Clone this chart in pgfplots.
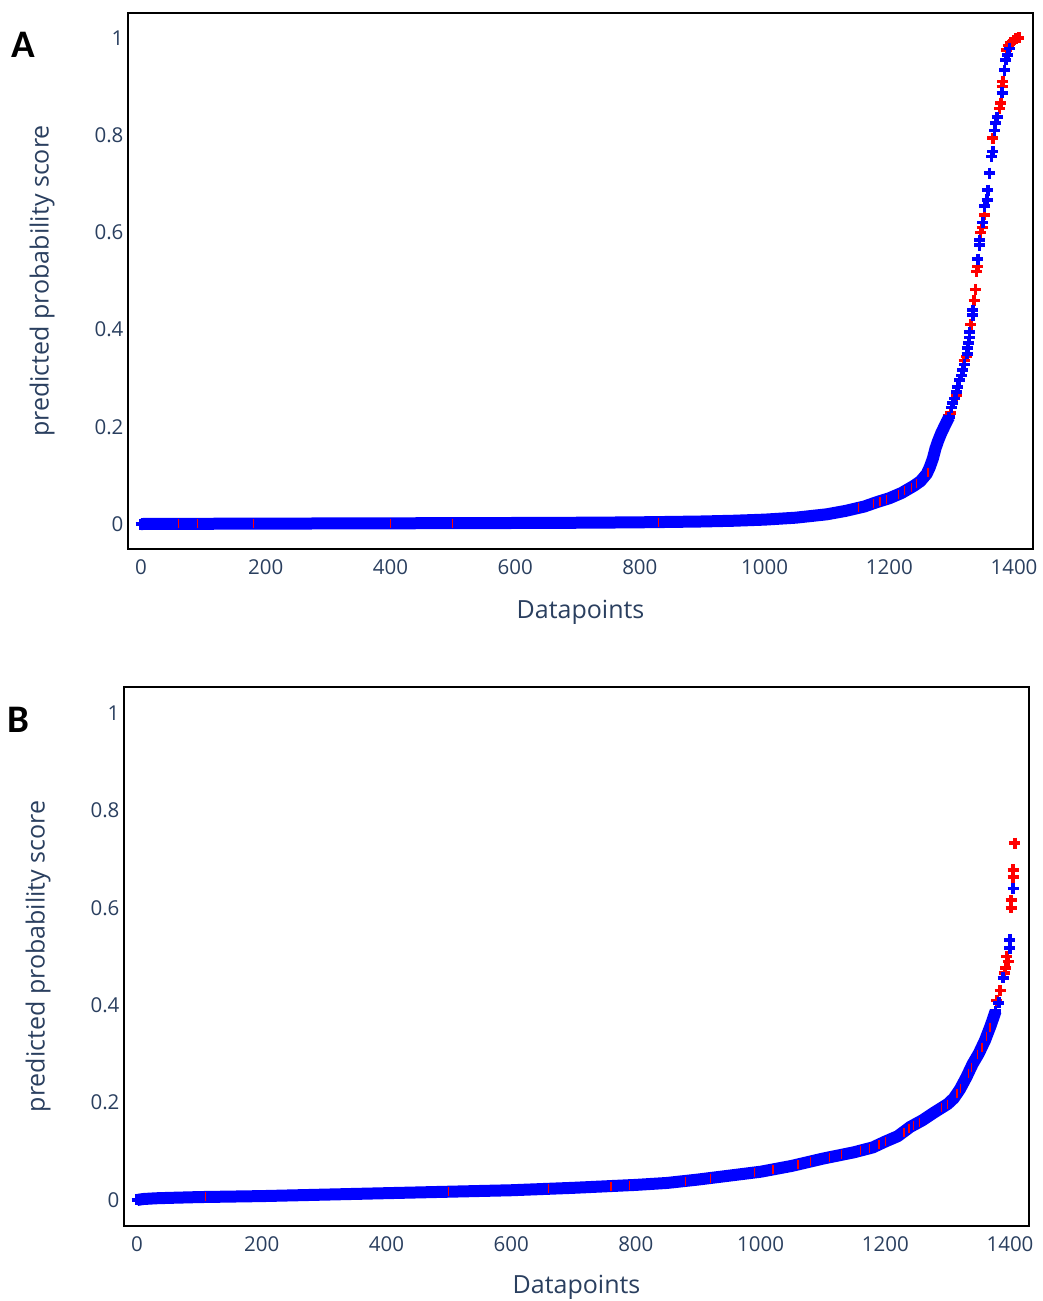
\documentclass[border=0pt]{standalone}
\usepackage{pgfplots}
\pgfplotsset{compat=1.18}
\usepackage{fontspec}
\setmainfont{Open Sans}
\newfontfamily\panelfont{Carlito}
\definecolor{axtext}{RGB}{42,63,95}
\definecolor{ptblue}{RGB}{0,0,255}
\definecolor{ptred}{RGB}{255,0,0}

\begin{document}
\begin{tikzpicture}[x=1pt,y=1pt]
\useasboundingbox (0,0) rectangle (1042,1301);
\pgfplotsset{
  panel/.style={
    scale only axis, width=905pt,
    xmin=-20.85, xmax=1430.5,
    clip marker paths=true,
    axis line style={black, line width=1.5pt},
    major tick length=0pt, tick style={draw=none},
    xtick={0,200,400,600,800,1000,1200,1400},
    xticklabels={0,200,400,600,800,1000,1200,1400},
    ytick={0,0.2,0.4,0.6,0.8,1},
    yticklabels={0,0.2,0.4,0.6,0.8,1},
    /pgf/number format/assume math mode=true,
    tick label style={font=\fontsize{20.5}{24}\selectfont, text=axtext},
    xticklabel style={yshift=-7pt},
    yticklabel style={xshift=-1pt},
    label style={font=\fontsize{25}{30}\selectfont, text=axtext},
    xlabel={Datapoints}, ylabel={predicted probability score},
    ylabel style={anchor=center, rotate=0, at={(axis description cs:-0.095,0.5)}},
  },
  pts/.style={only marks, mark=+, mark size=5.5pt, mark options={line width=3.5pt}},
  % red markers mostly hidden under the blue run: only thin slivers show
  sliver/.style={only marks, ptred, mark=|, mark size=4.5pt, mark options={line width=1.2pt}},
  % the dense run of markers merges into a solid band
  band/.style={no marks, ptblue, line width=12pt, line join=round, line cap=butt},
}

% ---------------- Panel A ----------------
\pgfplotstableread{
x y
0 0.0000
50 0.0003
100 0.0005
150 0.0006
200 0.0008
250 0.0010
300 0.0011
350 0.0013
400 0.0014
450 0.0016
500 0.0017
550 0.0019
600 0.0021
650 0.0024
700 0.0026
750 0.0030
800 0.0035
850 0.0043
900 0.0052
950 0.0067
1000 0.0090
1050 0.0130
1100 0.0200
1130 0.0270
1160 0.0360
1180 0.0450
1200 0.0530
1220 0.0640
1240 0.0790
1250 0.0880
1260 0.1030
1265 0.1170
1270 0.1350
1274 0.1550
1278 0.1700
1283 0.1860
1290 0.2050
1296 0.2200
}\bandA

\begin{axis}[panel, at={(128pt,752pt)}, anchor=south west, height=536pt,
  ymin=-0.0514, ymax=1.0514,
  xlabel style={anchor=center, at={(axis description cs:0.5,-0.119)}}]
\addplot[pts, color=ptred] coordinates {
(1288,0.200)(1295,0.222)(1298,0.228)(1307,0.265)(1320,0.336)(1324,0.345)(1331,0.410)
(1336,0.460)(1338,0.483)(1340,0.520)(1342,0.530)(1346,0.600)(1349,0.610)(1353,0.636)
(1366,0.794)(1377,0.855)(1379,0.866)(1381,0.900)(1382,0.910)(1388,0.975)(1391,0.984)
(1395,0.990)(1399,0.994)(1403,0.998)(1408,1.000)
};
\addplot[band] table {\bandA};
\addplot[sliver] coordinates {
(60,0.0003)(90,0.0004)(180,0.0007)(400,0.0014)(500,0.0017)(830,0.0040)
(1150,0.0330)(1175,0.0420)(1185,0.0470)(1195,0.0510)(1215,0.0610)(1225,0.0680)
(1235,0.0750)(1244,0.0830)(1262,0.1070)(1281,0.1800)
};
\addplot[pts, color=ptblue] coordinates {
(0,0.0000)
(1270,0.135)(1272,0.145)(1274,0.155)(1276,0.162)(1278,0.170)(1281,0.179)(1283,0.186)(1286,0.193)(1290,0.205)(1292,0.212)
(1296,0.220)(1300,0.240)(1302,0.249)(1305,0.258)(1308,0.272)(1310,0.282)(1313,0.296)(1316,0.306)(1318,0.317)(1321,0.328)
(1325,0.350)(1326,0.362)(1327,0.372)(1329,0.384)(1329,0.395)(1334,0.430)(1334,0.440)(1342,0.545)(1345,0.574)(1345,0.584)
(1350,0.620)(1353,0.654)(1357,0.667)(1358,0.687)(1361,0.722)(1364,0.756)(1366,0.766)(1369,0.810)(1370,0.825)(1373,0.837)
(1381,0.887)(1385,0.934)(1387,0.955)(1390,0.965)(1393,0.978)
};
\end{axis}

% ---------------- Panel B ----------------
\pgfplotstableread{
x y
0 0.0000
10 0.0020
30 0.0035
50 0.0043
100 0.0060
150 0.0070
200 0.0080
250 0.0095
300 0.0110
350 0.0125
400 0.0140
450 0.0155
500 0.0170
550 0.0185
600 0.0200
650 0.0225
700 0.0250
750 0.0280
800 0.0310
850 0.0350
900 0.0420
950 0.0500
1000 0.0580
1050 0.0700
1100 0.0850
1150 0.0980
1180 0.1080
1200 0.1200
1220 0.1310
1240 0.1500
1260 0.1640
1280 0.1810
1300 0.1970
1310 0.2090
1320 0.2280
1330 0.2520
1340 0.2790
1350 0.3010
1360 0.3280
1369 0.3580
1377 0.3880
}\bandB

\begin{axis}[panel, at={(124pt,75pt)}, anchor=south west, height=539pt,
  ymin=-0.0534, ymax=1.0534,
  xlabel style={anchor=center, at={(axis description cs:0.5,-0.113)}}]
\addplot[pts, color=ptred] coordinates {
(1379,0.410)(1384,0.430)(1391,0.466)(1393,0.476)(1395,0.500)(1397,0.490)(1402,0.600)
(1402,0.616)(1405,0.663)(1405,0.678)(1408,0.733)
};
\addplot[band] table {\bandB};
\addplot[sliver] coordinates {
(110,0.0062)(500,0.0170)(660,0.0230)(760,0.0286)(790,0.0304)(880,0.0390)(920,0.0450)
(990,0.0564)(1020,0.0625)(1060,0.0730)(1080,0.0790)(1110,0.0880)(1130,0.0930)(1160,0.1010)
(1175,0.1060)(1190,0.1140)(1200,0.1200)(1230,0.1390)(1238,0.1470)(1245,0.1520)(1255,0.1600)
(1290,0.1890)(1300,0.1970)(1315,0.2180)(1320,0.2280)(1333,0.2600)(1338,0.2720)(1348,0.2980)
(1355,0.3140)(1362,0.3350)(1368,0.3550)(1375,0.3800)
};
\addplot[pts, color=ptblue] coordinates {
(0,0.0000)(1373,0.376)(1377,0.388)(1382,0.405)(1389,0.456)(1400,0.517)
(1400,0.534)(1405,0.640)
};
\end{axis}

% panel letters
\node[font=\panelfont\bfseries\fontsize{39}{40}\selectfont, text=black] at (23,1256) {A};
\node[font=\panelfont\bfseries\fontsize{39}{40}\selectfont, text=black] at (18,581) {B};
\end{tikzpicture}
\end{document}
